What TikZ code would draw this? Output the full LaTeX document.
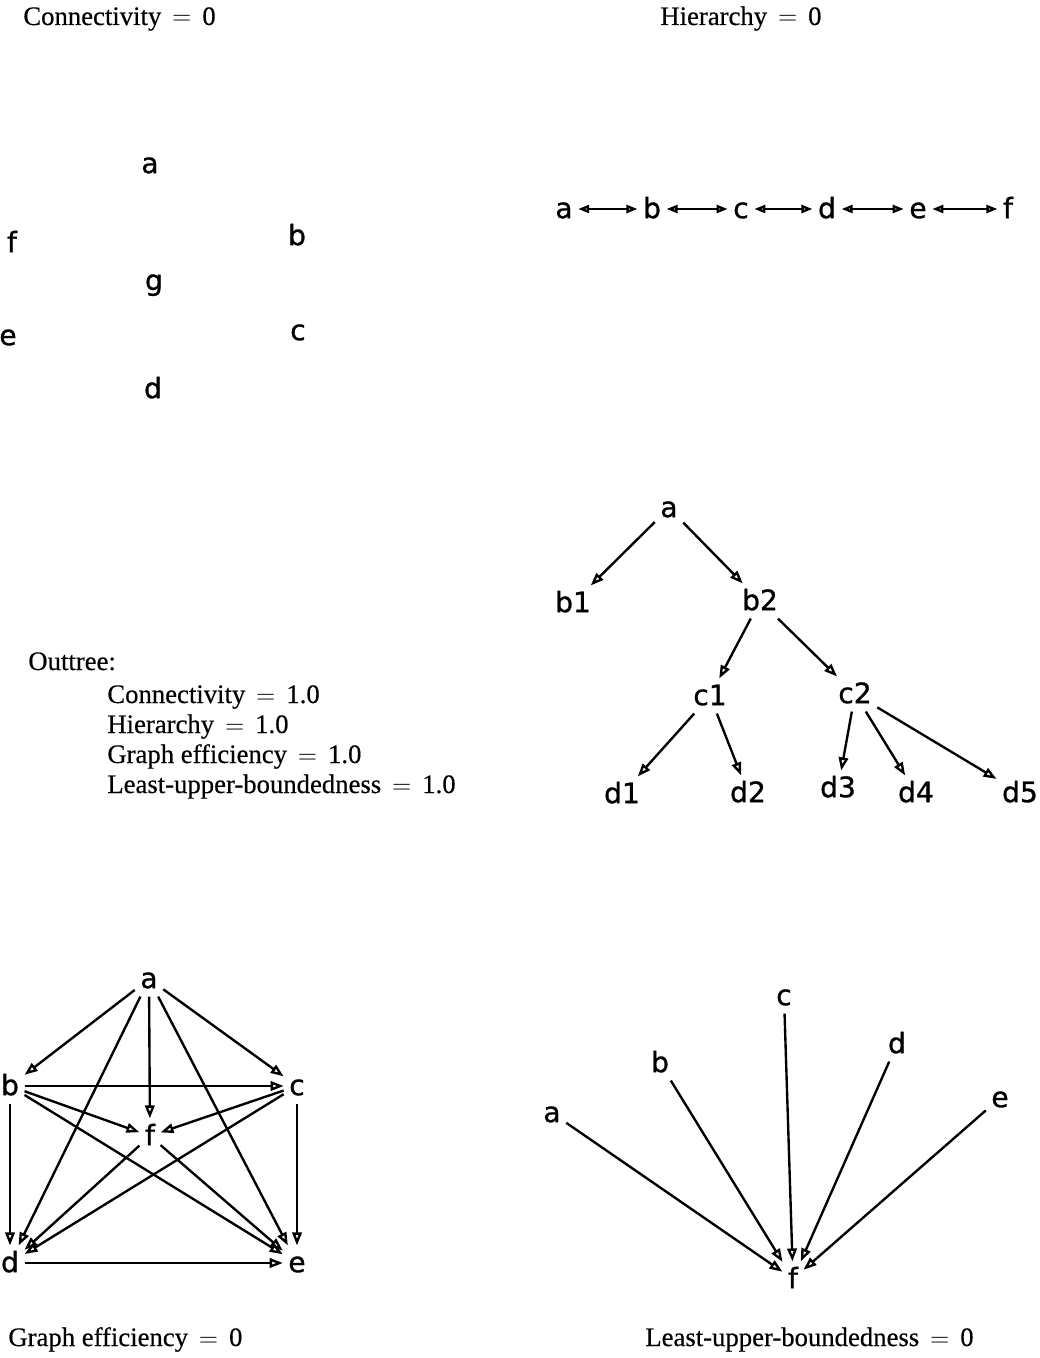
\documentclass[tikz,border=0pt]{standalone}
\usepackage{fontspec}
\setmainfont{Liberation Serif}[FakeBold=0.4]
\newfontfamily\plotfont[FakeBold=1]{DejaVu Sans}
\usetikzlibrary{arrows.meta,positioning}
\tikzset{
  vtx/.style={font=\plotfont\fontsize{16}{19}\selectfont, inner sep=3pt, text height=12pt, text depth=1.6pt},
  caption/.style={font=\fontsize{15.2}{18}\selectfont, anchor=base west, inner sep=0pt},
  link/.style={-{Triangle[open,length=2.6mm,width=1.9mm]}, line width=1.35pt},
  duallink/.style={{Triangle[open,length=2.2mm,width=1.6mm]}-{Triangle[open,length=2.2mm,width=1.6mm]}, line width=1.35pt}
}

\begin{document}
\begin{tikzpicture}[x=0.02cm,y=-0.02cm]
  \useasboundingbox (0,0) rectangle (1039,1358);

  % connectivity = 0
  \node[caption] (capconn) at (23,25) {Connectivity $\,=\,$ 0};
  \node[vtx] (ga) at (150,164) {a};
  \node[vtx] (gb) at (297,236) {b};
  \node[vtx] (gc) at (298,331) {c};
  \node[vtx] (gd) at (153,389) {d};
  \node[vtx] (ge) at (8,336) {e};
  \node[vtx] (gf) at (12,243) {f};
  \node[vtx] (gg) at (154,281) {g};

  % hierarchy = 0
  \node[caption] (caphier) at (660,25) {Hierarchy $\,=\,$ 0};
  \node[vtx] (ha) at (564,209) {a};
  \node[vtx] (hb) at (652,209) {b};
  \node[vtx] (hc) at (741,209) {c};
  \node[vtx] (hd) at (827,209) {d};
  \node[vtx] (he) at (918,209) {e};
  \node[vtx] (hf) at (1008,209) {f};
  \draw[duallink] (ha) -- (hb);
  \draw[duallink] (hb) -- (hc);
  \draw[duallink] (hc) -- (hd);
  \draw[duallink] (hd) -- (he);
  \draw[duallink] (he) -- (hf);

  % outtree
  \node[caption] (capout) at (28,670) {Outtree:};
  \node[caption] (outconn) at (107,703) {Connectivity $\,=\,$ 1.0};
  \node[caption] (outhier) at (107,733) {Hierarchy $\,=\,$ 1.0};
  \node[caption] (outeff) at (107,763) {Graph efficiency $\,=\,$ 1.0};
  \node[caption] (outlub) at (107,793) {Least-upper-boundedness $\,=\,$ 1.0};

  \node[vtx] (ta) at (669,508) {a};
  \node[vtx] (tb1) at (573,603) {b1};
  \node[vtx] (tb2) at (760,601) {b2};
  \node[vtx] (tc1) at (710,696) {c1};
  \node[vtx] (tc2) at (855,694) {c2};
  \node[vtx] (td1) at (622,794) {d1};
  \node[vtx] (td2) at (748,793) {d2};
  \node[vtx] (td3) at (838,788) {d3};
  \node[vtx] (td4) at (916,793) {d4};
  \node[vtx] (td5) at (1020,793) {d5};
  \draw[link] (ta) -- (tb1);
  \draw[link] (ta) -- (tb2);
  \draw[link] (tb2) -- (tc1);
  \draw[link] (tb2) -- (tc2);
  \draw[link] (tc1) -- (td1);
  \draw[link] (tc1) -- (td2);
  \draw[link] (tc2) -- (td3);
  \draw[link] (tc2) -- (td4);
  \draw[link] (tc2) -- (td5);

  % graph efficiency = 0
  \node[vtx] (ea) at (149,979) {a};
  \node[vtx] (eb) at (10,1086) {b};
  \node[vtx] (ec) at (297,1086) {c};
  \node[vtx] (ef) at (150,1136) {f};
  \node[vtx] (ed) at (10,1263) {d};
  \node[vtx] (ee) at (297,1263) {e};
  \foreach \from/\to in {ea/eb,ea/ec,ea/ef,ea/ed,ea/ee,eb/ec,eb/ef,eb/ed,eb/ee,ec/ef,ec/ed,ec/ee,ef/ed,ef/ee,ed/ee}
    \draw[link] (\from) -- (\to);
  \node[caption] (capeff) at (8,1346) {Graph efficiency $\,=\,$ 0};

  % least-upper-boundedness = 0
  \node[vtx] (la) at (552,1113) {a};
  \node[vtx] (lb) at (660,1063) {b};
  \node[vtx] (lc) at (784,996) {c};
  \node[vtx] (ld) at (897,1044) {d};
  \node[vtx] (le) at (1000,1098) {e};
  \node[vtx] (lf) at (793,1279) {f};
  \foreach \from in {la,lb,lc,ld,le}
    \draw[link] (\from) -- (lf);
  \node[caption] (caplub) at (645,1346) {Least-upper-boundedness $\,=\,$ 0};
\end{tikzpicture}
\end{document}
